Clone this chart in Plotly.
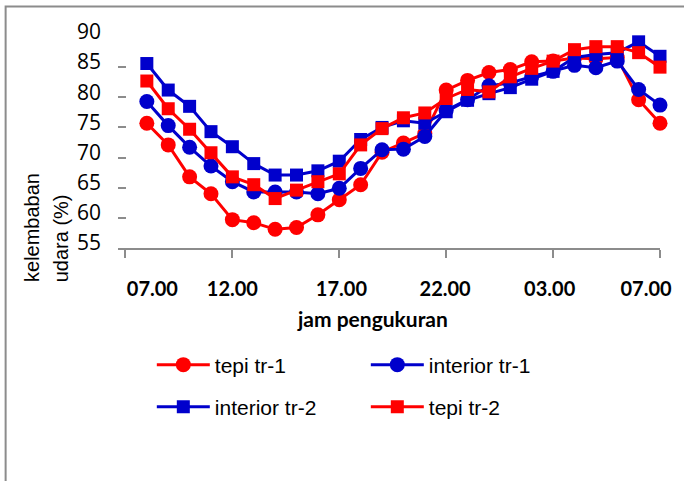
import plotly.graph_objects as go

# hourly measurement positions (25 readings)
jam = list(range(25))

tepi_tr1 = [75.7, 72.1, 66.8, 64.0, 59.7, 59.2, 58.1, 58.4, 60.5, 63.0, 65.5, 70.9, 72.4,
            74.0, 81.2, 82.8, 84.1, 84.6, 85.9, 86.0, 86.5, 86.4, 86.6, 79.6, 75.7]
interior_tr1 = [79.3, 75.3, 71.7, 68.6, 66.0, 64.3, 64.3, 64.3, 64.0, 64.9, 68.2, 71.3, 71.4,
                73.5, 77.8, 79.6, 81.9, 82.4, 83.4, 84.3, 85.3, 84.9, 86.0, 81.3, 78.7]
interior_tr2 = [85.6, 81.2, 78.5, 74.3, 71.8, 69.0, 67.1, 67.1, 67.8, 69.4, 73.0, 75.0, 76.1,
                75.7, 77.6, 79.5, 80.6, 81.6, 83.0, 84.3, 86.6, 87.1, 87.4, 89.2, 86.8]
tepi_tr2 = [82.7, 78.1, 74.7, 70.8, 66.8, 65.5, 63.2, 64.6, 66.0, 67.3, 72.1, 74.8, 76.6,
            77.4, 79.8, 81.3, 80.9, 83.4, 84.8, 86.0, 87.9, 88.4, 88.4, 87.4, 85.0]

tick_marks = [-1, 4, 9, 14, 19, 24]
label_pos = [0.26, 4.0, 9.1, 13.95, 18.84, 23.35]
label_text = ["07.00", "12.00", "17.00", "22.00", "03.00", "07.00"]
y_ticks = [55, 60, 65, 70, 75, 80, 85, 90]

RED = "#FF0000"
BLUE = "#0000CC"
SANS = "Liberation Sans, Arial, sans-serif"

series = [
    ("tepi tr-1", tepi_tr1, RED, "circle", 15, "legend"),
    ("interior tr-1", interior_tr1, BLUE, "circle", 15, "legend"),
    ("interior tr-2", interior_tr2, BLUE, "square", 13, "legend2"),
    ("tepi tr-2", tepi_tr2, RED, "square", 13, "legend2"),
]

fig = go.Figure()
for name, vals, col, sym, size, leg in series:
    fig.add_trace(go.Scatter(
        x=jam, y=vals, name=name, mode="lines+markers",
        line=dict(color=col, width=3),
        marker=dict(color=col, symbol=sym, size=size),
        cliponaxis=False, legend=leg,
    ))

W, H = 684, 481
ML, MR, MT, MB = 118, 21, 37, 233
pw, ph = W - ML - MR, H - MT - MB


def px(x):
    return (x - ML) / pw


def py(y):
    return (H - MB - y) / ph


legend_common = dict(
    orientation="h", xanchor="left", yanchor="middle",
    entrywidth=146, entrywidthmode="pixels", itemwidth=53,
    font=dict(family=SANS, size=21, color="black"),
    bgcolor="rgba(0,0,0,0)", traceorder="normal",
)

fig.update_layout(
    width=W, height=H,
    margin=dict(l=ML, r=MR, t=MT, b=MB),
    paper_bgcolor="white", plot_bgcolor="white",
    showlegend=True,
    legend=dict(x=px(152), y=py(365), **legend_common),
    legend2=dict(x=px(152), y=py(407), **legend_common),
    xaxis=dict(
        range=[-1.349, 24.0], showgrid=False, zeroline=False,
        showline=True, linecolor="#8c8c8c", linewidth=2,
        ticks="", tickmode="array", tickvals=label_pos, ticktext=label_text,
        tickfont=dict(family="Lato", size=20, color="black", weight="bold"),
        ticklabelstandoff=22,
        minor=dict(tickmode="array", tickvals=tick_marks, ticks="outside",
                   ticklen=8, tickwidth=2, tickcolor="#8c8c8c", showgrid=False),
    ),
    yaxis=dict(
        range=[55, 90], showgrid=False, zeroline=False, showline=False,
        tickmode="array", tickvals=y_ticks,
        ticks="inside", ticklen=8, tickwidth=1.5, tickcolor="#8c8c8c",
        tickfont=dict(family="Open Sans", size=21, color="black"),
        ticklabelstandoff=16, ticklabelshift=-5,
    ),
    annotations=[
        dict(text="jam pengukuran", xref="paper", yref="paper",
             x=px(374), y=py(318), xanchor="center", yanchor="middle",
             showarrow=False,
             font=dict(family="Lato", size=21, color="black", weight="bold")),
        dict(text="kelembaban", xref="paper", yref="paper",
             x=px(31), y=py(284), xanchor="center", yanchor="bottom",
             textangle=-90, showarrow=False,
             font=dict(family=SANS, size=20, color="black")),
        dict(text="udara (%)", xref="paper", yref="paper",
             x=px(61), y=py(284), xanchor="center", yanchor="bottom",
             textangle=-90, showarrow=False,
             font=dict(family=SANS, size=20, color="black")),
    ],
    shapes=[
        dict(type="rect", xref="paper", yref="paper",
             x0=px(5), x1=px(720), y0=py(520), y1=py(6.5),
             line=dict(color="#8c8c8c", width=2), fillcolor="rgba(0,0,0,0)",
             layer="below"),
    ],
)

fig.write_html("out.html")
